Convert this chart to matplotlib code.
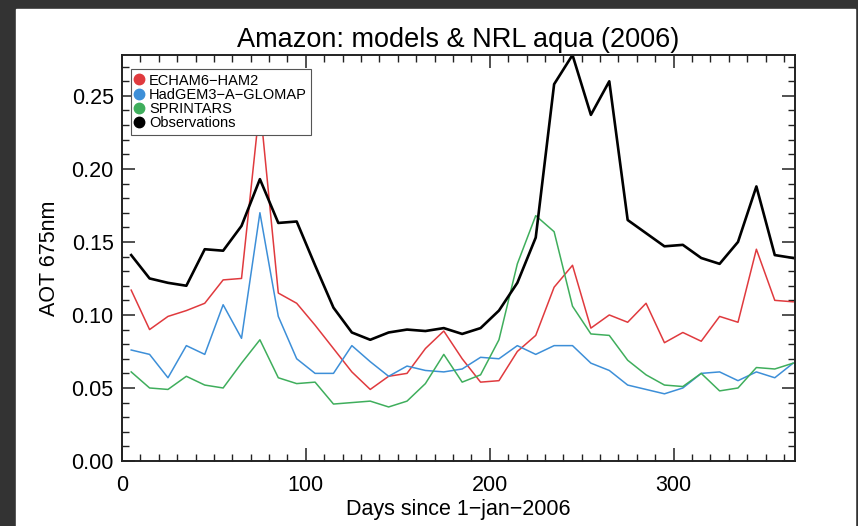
import numpy as np
import matplotlib
matplotlib.use('Agg')
import matplotlib.pyplot as plt
from matplotlib.lines import Line2D
from matplotlib.patches import Rectangle
from matplotlib.ticker import MultipleLocator, FormatStrFormatter

plt.rcParams['font.family'] = ['Liberation Sans', 'DejaVu Sans']

# %% DATA: 10-day mean AOT at 675 nm over the Amazon, 2006

days = np.arange(5, 366, 10)

obs = [0.141, 0.125, 0.122, 0.120, 0.145, 0.144, 0.161, 0.193, 0.163, 0.164,
       0.134, 0.105, 0.088, 0.083, 0.088, 0.090, 0.089, 0.091, 0.087, 0.091,
       0.103, 0.122, 0.153, 0.258, 0.278, 0.237, 0.260, 0.165, 0.156, 0.147,
       0.148, 0.139, 0.135, 0.150, 0.188, 0.141, 0.139]

echam = [0.117, 0.090, 0.099, 0.103, 0.108, 0.124, 0.125, 0.244, 0.115, 0.108,
         0.093, 0.077, 0.061, 0.049, 0.058, 0.060, 0.077, 0.089, 0.070, 0.054,
         0.055, 0.075, 0.086, 0.119, 0.134, 0.091, 0.100, 0.095, 0.108, 0.081,
         0.088, 0.082, 0.099, 0.095, 0.145, 0.110, 0.109]

hadgem = [0.076, 0.073, 0.057, 0.079, 0.073, 0.107, 0.084, 0.170, 0.099, 0.070,
          0.060, 0.060, 0.079, 0.068, 0.058, 0.065, 0.062, 0.061, 0.063, 0.071,
          0.070, 0.079, 0.073, 0.079, 0.079, 0.067, 0.062, 0.052, 0.049, 0.046,
          0.050, 0.060, 0.061, 0.055, 0.061, 0.057, 0.067]

sprintars = [0.061, 0.050, 0.049, 0.058, 0.052, 0.050, 0.067, 0.083, 0.057, 0.053,
             0.054, 0.039, 0.040, 0.041, 0.037, 0.041, 0.053, 0.073, 0.054, 0.059,
             0.083, 0.135, 0.168, 0.157, 0.106, 0.087, 0.086, 0.069, 0.059, 0.052,
             0.051, 0.060, 0.048, 0.050, 0.064, 0.063, 0.067]

names  = ['ECHAM6\u2212HAM2', 'HadGEM3\u2212A\u2212GLOMAP', 'SPRINTARS', 'Observations']
colors = ['#e03a3e', '#3d8fd8', '#3fae5c', 'black']

# %% PLOT

W, H = 858, 526
fig = plt.figure(figsize=(W / 100, H / 100), dpi=100)
fig.set_facecolor('#333333')
fig.patches.append(Rectangle((16 / W, 0), (855 - 16) / W, (H - 9) / H,
                             transform=fig.transFigure, color='white', zorder=-10))

ax = fig.add_axes([122 / W, (H - 461) / H, (795 - 122) / W, (461 - 55) / H])

ax.plot(days, echam, color=colors[0], lw=1.1)
ax.plot(days, hadgem, color=colors[1], lw=1.1)
ax.plot(days, sprintars, color=colors[2], lw=1.1)
ax.plot(days, obs, color=colors[3], lw=1.9)

ax.set_xlim(0, 366)
ax.set_ylim(0, max(obs))

ax.xaxis.set_major_locator(MultipleLocator(100))
ax.xaxis.set_minor_locator(MultipleLocator(10))
ax.yaxis.set_major_locator(MultipleLocator(0.05))
ax.yaxis.set_minor_locator(MultipleLocator(0.01))
ax.yaxis.set_major_formatter(FormatStrFormatter('%.2f'))

ax.tick_params(which='both', direction='in', top=True, right=True,
               colors='#222222', labelcolor='black', labelsize=15.5)
ax.tick_params(which='major', length=9.5, width=1.1)
ax.tick_params(which='minor', length=4.7, width=1.0)
ax.tick_params(axis='x', pad=10)
ax.tick_params(axis='y', pad=6)
for sp in ax.spines.values():
    sp.set_linewidth(1.4)
    sp.set_color('#222222')

ax.set_title('Amazon: models & NRL aqua (2006)', fontsize=19.5, pad=6)
ax.set_xlabel('Days since 1\u2212jan\u22122006', fontsize=15.5, labelpad=2)
ax.set_ylabel('AOT 675nm', fontsize=15.5, labelpad=8)

handles = [Line2D([], [], ls='none', marker='o', ms=7.5, color=c) for c in colors]
leg = ax.legend(handles, names, loc='upper left', bbox_to_anchor=(0.0129, 0.965),
                fontsize=10.5, frameon=True, fancybox=False, framealpha=1,
                edgecolor='#555555', borderpad=0.3, labelspacing=0.02,
                handlelength=0.6, handletextpad=0.35, borderaxespad=0)
leg.get_frame().set_linewidth(0.8)

fig.savefig('out.png', dpi=100, facecolor=fig.get_facecolor())
